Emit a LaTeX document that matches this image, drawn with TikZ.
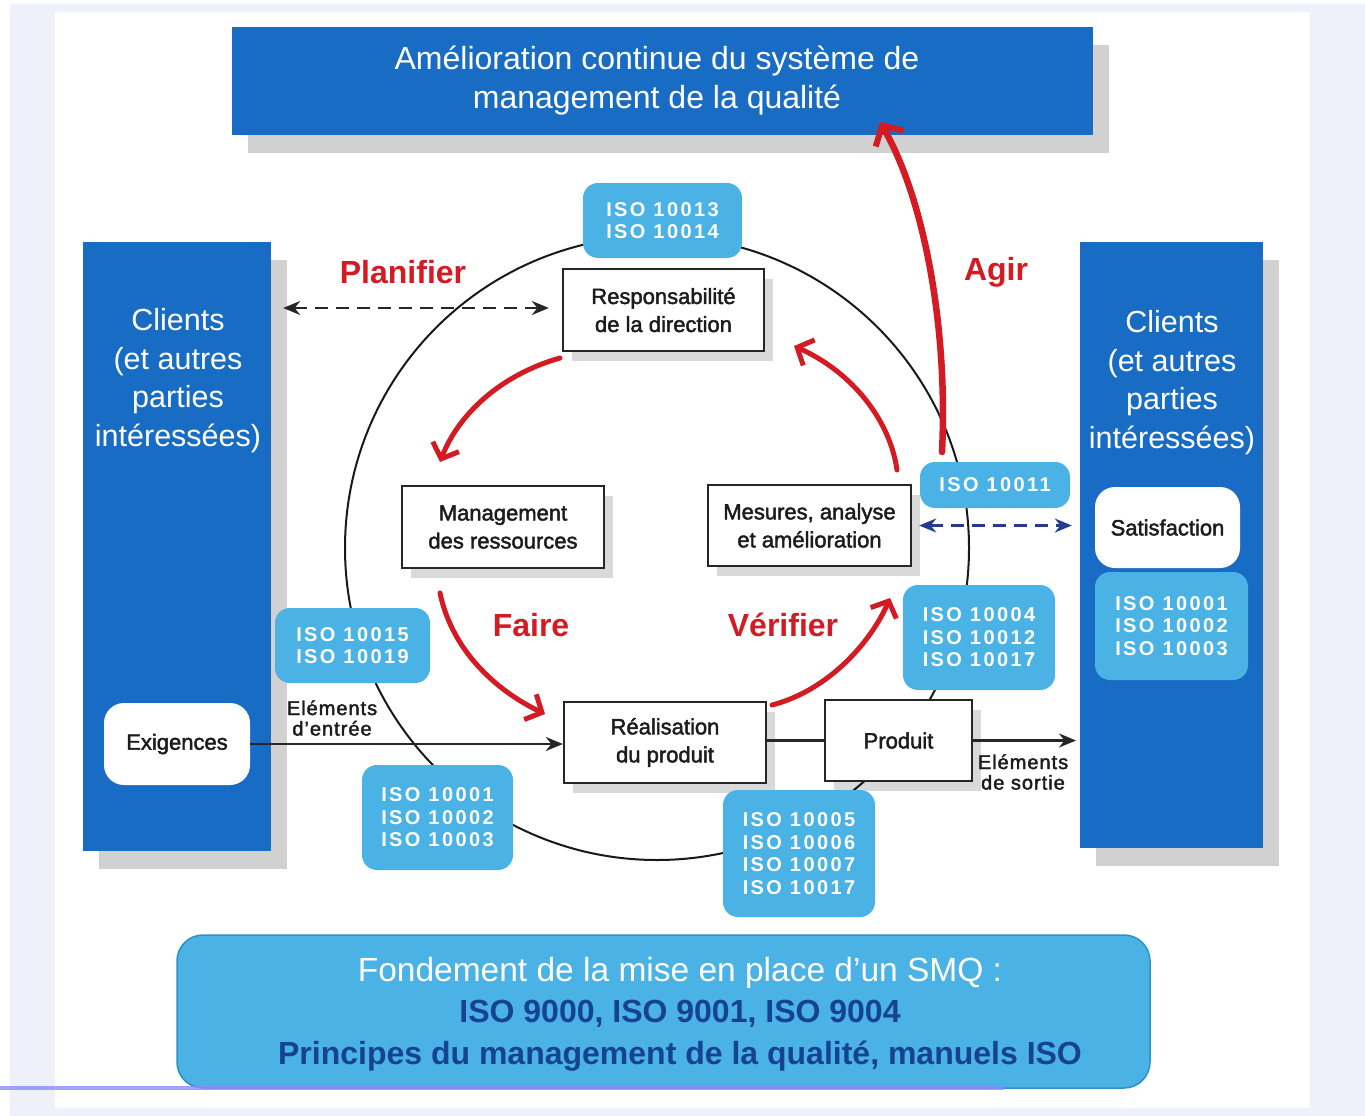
\documentclass[tikz,border=0pt]{standalone}
\usepackage{fontspec}
\setmainfont{Liberation Sans}
\newfontfamily\isofont[LetterSpace=12]{Liberation Sans}
\newfontfamily\medfont[FakeBold=2]{Liberation Sans}
\newfontfamily\smallfont[FakeBold=2,LetterSpace=5]{Liberation Sans}
\usetikzlibrary{arrows.meta,shadows}
\definecolor{dblue}{RGB}{24,108,196}
\definecolor{lblue}{RGB}{74,178,228}
\definecolor{lblueedge}{RGB}{45,145,200}
\definecolor{tblue}{RGB}{22,66,146}
\definecolor{myred}{RGB}{212,26,34}
\definecolor{outerbg}{RGB}{238,241,250}
\definecolor{dashblue}{RGB}{40,58,140}
\definecolor{boxtext}{RGB}{28,28,28}
\tikzset{
  bluebox/.style={fill=dblue, draw=none, text=white, align=center, inner sep=0pt,
    drop shadow={shadow xshift=16pt, shadow yshift=-18pt, opacity=.18, fill=black}},
  whitebox/.style={fill=white, draw=black!85, line width=2.4pt, text=boxtext, align=center, inner sep=0pt,
    font=\medfont\fontsize{22}{28}\selectfont,
    drop shadow={shadow xshift=9pt, shadow yshift=-10pt, opacity=.15, fill=black}},
  roundwhite/.style={fill=white, draw=none, rounded corners=20pt, text=boxtext, align=center, inner sep=0pt,
    font=\medfont\fontsize{22}{26}\selectfont},
  isobox/.style={fill=lblue, draw=none, rounded corners=15pt, text=white, align=center, inner sep=0pt,
    font=\isofont\bfseries\fontsize{20}{22.5}\selectfont},
  redarr/.style={draw=myred, line width=5pt, line cap=round,
    -{Straight Barb[length=13pt,width=28pt,line width=5pt]}},
  redlabel/.style={text=myred, font=\bfseries\fontsize{32}{34}\selectfont, inner sep=0pt},
  smalllabel/.style={text=boxtext, align=center, inner sep=0pt, font=\smallfont\fontsize{20}{20.5}\selectfont},
  cliented/.style={text=white, align=center, inner sep=0pt, font=\fontsize{30.5}{38.5}\selectfont},
  flow/.style={line width=2.3pt, black!85},
  flowtip/.style={-{Stealth[length=17pt,width=14pt]}}
}
\begin{document}
\begin{tikzpicture}[x=1pt,y=-1pt]
\useasboundingbox (0,0) rectangle (1365,1116);
\fill[white] (0,0) rectangle (1365,1116);
\fill[outerbg] (10,4) rectangle (1365,1116);
\fill[white] (55,12) rectangle (1310,1108);

% circle
\draw[line width=2pt, black!90] (657,548) circle[radius=312];

% top box
\node[bluebox, minimum width=861, minimum height=108] (top) at (662.5,81) {};
\node[text=white, align=center, inner sep=0pt, font=\fontsize{32}{39}\selectfont] (toptext) at (657,81)
  {Amélioration continue du système de\\management de la qualité};

% side boxes
\node[bluebox, minimum width=188, minimum height=609] (left) at (177,546.5) {};
\node[bluebox, minimum width=183, minimum height=606] (right) at (1171.5,545) {};
\node[cliented] (lefttext) at (178,380.5) {Clients\\(et autres\\parties\\intéressées)};
\node[cliented] (righttext) at (1172,382.5) {Clients\\(et autres\\parties\\intéressées)};
\node[roundwhite, minimum width=146, minimum height=82] (exig) at (177,744) {Exigences};
\node[roundwhite, minimum width=145, minimum height=81] (satis) at (1167.5,527.5) {Satisfaction};
\node[isobox, minimum width=153, minimum height=108] (isoR) at (1171.5,626) {ISO 10001\\ISO 10002\\ISO 10003};

% bottom box
\node[fill=lblue, draw=lblueedge, line width=1.5pt, rounded corners=26pt, minimum width=973, minimum height=153, inner sep=0pt] (bottom) at (663.5,1011.5) {};
\node[align=center, inner sep=0pt, font=\fontsize{32}{41.5}\selectfont] (bottomtext) at (680,1014)
  {{\color{white}\fontsize{33.5}{41.5}\selectfont Fondement de la mise en place d’un SMQ :}\\
   {\color{tblue}\bfseries ISO 9000, ISO 9001, ISO 9004}\\
   {\color{tblue}\bfseries Principes du management de la qualité, manuels ISO}};

% process boxes
\node[whitebox, minimum width=201, minimum height=82] (resp) at (663.5,310) {Responsabilité\\de la direction};
\node[whitebox, minimum width=202, minimum height=82] (mgmt) at (503,527) {Management\\des ressources};
\node[whitebox, minimum width=203, minimum height=81] (mes) at (809.5,525.5) {Mesures, analyse\\et amélioration};
\node[whitebox, minimum width=202, minimum height=81] (real) at (665,742.5) {Réalisation\\du produit};
\node[whitebox, minimum width=147, minimum height=81] (prod) at (898.5,740.5) {Produit};

% ISO boxes
\node[isobox, minimum width=159, minimum height=75] (iso13) at (662.5,220.5) {ISO 10013\\ISO 10014};
\node[isobox, minimum width=150, minimum height=46] (iso11) at (995,485) {ISO 10011};
\node[isobox, minimum width=152, minimum height=105] (iso4) at (979,637.5) {ISO 10004\\ISO 10012\\ISO 10017};
\node[isobox, minimum width=155, minimum height=75] (iso15) at (352.5,645.5) {ISO 10015\\ISO 10019};
\node[isobox, minimum width=151, minimum height=105] (iso1L) at (437.5,817.5) {ISO 10001\\ISO 10002\\ISO 10003};
\node[isobox, minimum width=152, minimum height=127] (iso5) at (799,853.5) {ISO 10005\\ISO 10006\\ISO 10007\\ISO 10017};

% flow lines
\coordinate (outR) at (1076,740.5);
\draw[flow, flowtip] (exig.east) -- (exig.east -| real.west);
\draw[flow] (real.east |- prod.west) -- (prod.west);
\draw[flow, flowtip] (prod.east) -- (outR);
\node[smalllabel] (entree) at (332,718) {Eléments\\d’entrée};
\node[smalllabel] (sortie) at (1023,772) {Eléments\\de sortie};

% dashed arrows
\draw[flow, dash pattern=on 13pt off 8pt, {Stealth[length=17pt,width=14pt]}-{Stealth[length=17pt,width=14pt]}, shorten <=12pt, shorten >=13pt]
  (left.east |- 0,308) -- (resp.west |- 0,308);
\draw[flow, draw=dashblue, dash pattern=on 13pt off 8pt, {Stealth[length=17pt,width=14pt]}-{Stealth[length=17pt,width=14pt]}, shorten <=7pt, shorten >=8pt]
  (mes.east) -- (mes.east -| right.west);

% red cycle arrows
\draw[redarr] (560,358) .. controls (500,375) and (458,415) .. (440,462);
\draw[redarr] (440,593) .. controls (452,650) and (495,690) .. (545,714);
\draw[redarr] (772,705) .. controls (830,690) and (872,640) .. (890,598);
\draw[redarr] (897,470) .. controls (890,420) and (852,372) .. (794,346);
\draw[draw=myred, line width=6.5pt, line cap=round, -{Straight Barb[length=15pt,width=32pt,line width=6pt]}]
  (942,452) .. controls (948,330) and (925,200) .. (880,122);

% red labels
\node[redlabel] (planifier) at (403,272) {Planifier};
\node[redlabel] (agir) at (996,272) {Agir};
\node[redlabel] (faire) at (531,625) {Faire};
\node[redlabel] (verifier) at (783,625) {Vérifier};

% bottom purple line
\fill[blue!45!white, opacity=.8] (0,1086) rectangle (1004,1090);
\end{tikzpicture}
\end{document}
